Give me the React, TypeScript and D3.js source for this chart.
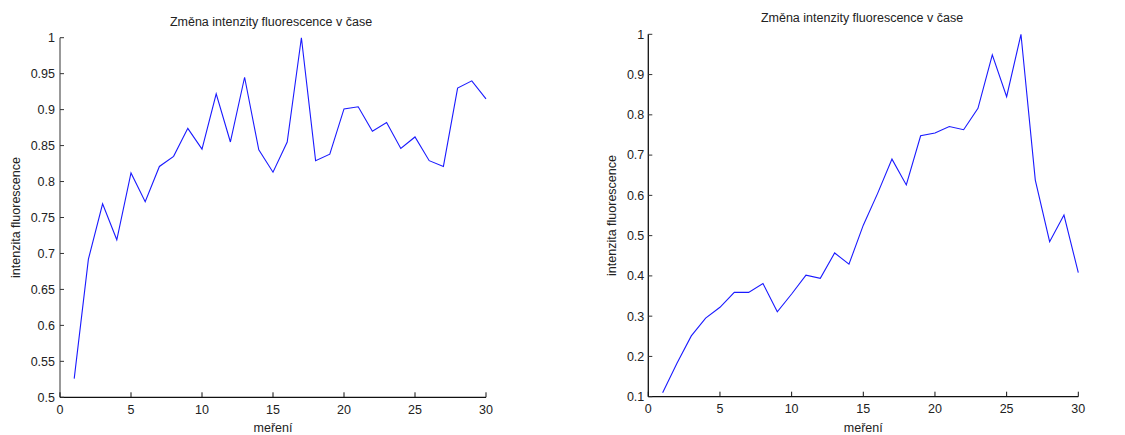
import React from "react";
import * as d3 from "d3";

const title = "Změna intenzity fluorescence v čase";
const yLabel = "intenzita fluorescence";
const xLabel = "meření";

const measurements = d3.range(1, 31);
const seriesLeft = [
  0.526, 0.692, 0.769, 0.719, 0.812, 0.772, 0.821, 0.835, 0.874, 0.845,
  0.922, 0.855, 0.945, 0.844, 0.813, 0.855, 1.0, 0.829, 0.838, 0.901,
  0.904, 0.870, 0.882, 0.846, 0.862, 0.829, 0.821, 0.930, 0.940, 0.915,
];
const seriesRight = [
  0.110, 0.183, 0.251, 0.295, 0.322, 0.359, 0.359, 0.381, 0.311, 0.355,
  0.402, 0.394, 0.457, 0.429, 0.526, 0.605, 0.690, 0.626, 0.748, 0.755,
  0.771, 0.763, 0.816, 0.949, 0.845, 1.0, 0.638, 0.485, 0.551, 0.408,
];
const xTicks = [0, 5, 10, 15, 20, 25, 30];
const yTicksLeft = [0.5, 0.55, 0.6, 0.65, 0.7, 0.75, 0.8, 0.85, 0.9, 0.95, 1];
const yTicksRight = [0.1, 0.2, 0.3, 0.4, 0.5, 0.6, 0.7, 0.8, 0.9, 1];

const FONT = "'Liberation Sans', Arial, sans-serif";

type PanelProps = {
  values: number[];
  yDomain: [number, number];
  yTicks: number[];
  x0: number;
  x1: number;
  yTop: number;
  yBottom: number;
  titleX: number;
  titleY: number;
  yLabelX: number;
  tickGap: number;
  leftAxisColor: string;
  leftAxisWidth: number;
};

function Panel(p: PanelProps) {
  const x = d3.scaleLinear().domain([0, 30]).range([p.x0, p.x1]);
  const y = d3.scaleLinear().domain(p.yDomain).range([p.yBottom, p.yTop]);
  const line = d3
    .line<number>()
    .x((_, i) => x(measurements[i]))
    .y((d) => y(d));
  const fmt = (v: number) => String(+v.toFixed(2));
  return (
    <g fontFamily={FONT} fill="#222">
      <text x={p.titleX} y={p.titleY} textAnchor="middle" fontSize={12.5}>
        {title}
      </text>
      <path d={line(p.values) || ""} fill="none" stroke="#1a1aff" strokeWidth={1.1} />
      <line x1={p.x0} x2={p.x0} y1={p.yTop} y2={p.yBottom} stroke={p.leftAxisColor} strokeWidth={p.leftAxisWidth} />
      <line x1={p.x0} x2={p.x1} y1={p.yBottom} y2={p.yBottom} stroke="#111" strokeWidth={1.3} />
      {p.yTicks.map((t) => (
        <g key={"y" + t}>
          <line x1={p.x0} x2={p.x0 + 4} y1={y(t)} y2={y(t)} stroke="#333" strokeWidth={1} />
          <text x={p.x0 - p.tickGap} y={y(t)} dy="0.35em" textAnchor="end" fontSize={12.5}>
            {fmt(t)}
          </text>
        </g>
      ))}
      {xTicks.map((t) => (
        <g key={"x" + t}>
          <line x1={x(t)} x2={x(t)} y1={p.yBottom} y2={p.yBottom - 5} stroke="#111" strokeWidth={1} />
          <text x={x(t)} y={p.yBottom + 16.5} textAnchor="middle" fontSize={12.5}>
            {t}
          </text>
        </g>
      ))}
      <text x={(p.x0 + p.x1) / 2} y={p.yBottom + 35} textAnchor="middle" fontSize={12.5}>
        {xLabel}
      </text>
      <text
        transform={`translate(${p.yLabelX},${(p.yTop + p.yBottom) / 2}) rotate(-90)`}
        textAnchor="middle"
        fontSize={12.5}
      >
        {yLabel}
      </text>
    </g>
  );
}

export default function App() {
  return (
    <svg
      width={1125}
      height={435}
      style={{ position: "absolute", left: 0, top: 0, background: "#fff" }}
    >
      <rect width={1125} height={435} fill="#fff" />
      <Panel
        values={seriesLeft}
        yDomain={[0.5, 1]}
        yTicks={yTicksLeft}
        x0={60}
        x1={486}
        yTop={37.7}
        yBottom={397.3}
        titleX={271}
        titleY={26}
        yLabelX={20}
        tickGap={5}
        leftAxisColor="#999"
        leftAxisWidth={2}
      />
      <Panel
        values={seriesRight}
        yDomain={[0.1, 1]}
        yTicks={yTicksRight}
        x0={648.3}
        x1={1078.3}
        yTop={34.3}
        yBottom={396.7}
        titleX={862}
        titleY={22}
        yLabelX={616}
        tickGap={4}
        leftAxisColor="#111"
        leftAxisWidth={1.3}
      />
    </svg>
  );
}
